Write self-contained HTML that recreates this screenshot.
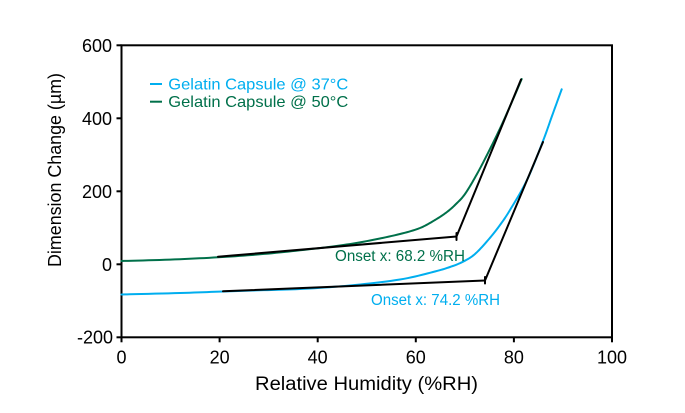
<!DOCTYPE html>
<html>
<head>
<meta charset="utf-8">
<style>
  html, body { margin: 0; padding: 0; background: #ffffff; }
  svg { display: block; }
  text { font-family: "Liberation Sans", "DejaVu Sans", sans-serif; }
</style>
</head>
<body>
<svg width="685" height="413" viewBox="0 0 685 413" xmlns="http://www.w3.org/2000/svg">
  <rect x="0" y="0" width="685" height="413" fill="#ffffff"/>

  <!-- Plot frame -->
  <rect x="121.5" y="45.3" width="490.5" height="292" fill="none" stroke="#000" stroke-width="2"/>

  <!-- Y ticks -->
  <g stroke="#000" stroke-width="2">
    <line x1="116.5" y1="45.3" x2="121.5" y2="45.3"/>
    <line x1="116.5" y1="118.3" x2="121.5" y2="118.3"/>
    <line x1="116.5" y1="191.3" x2="121.5" y2="191.3"/>
    <line x1="116.5" y1="264.3" x2="121.5" y2="264.3"/>
    <line x1="116.5" y1="337.3" x2="121.5" y2="337.3"/>
  </g>
  <!-- X ticks -->
  <g stroke="#000" stroke-width="2">
    <line x1="121.5" y1="337.3" x2="121.5" y2="342.3"/>
    <line x1="219.6" y1="337.3" x2="219.6" y2="342.3"/>
    <line x1="317.7" y1="337.3" x2="317.7" y2="342.3"/>
    <line x1="415.8" y1="337.3" x2="415.8" y2="342.3"/>
    <line x1="513.9" y1="337.3" x2="513.9" y2="342.3"/>
    <line x1="612" y1="337.3" x2="612" y2="342.3"/>
  </g>

  <!-- Y tick labels -->
  <g font-size="18" fill="#000" text-anchor="end">
    <text x="112" y="51.8">600</text>
    <text x="112" y="124.8">400</text>
    <text x="112" y="197.8">200</text>
    <text x="112" y="270.8">0</text>
    <text x="113" y="343.6">-200</text>
  </g>
  <!-- X tick labels -->
  <g font-size="18" fill="#000" text-anchor="middle">
    <text x="121.5" y="363.5">0</text>
    <text x="219.6" y="363.5">20</text>
    <text x="317.7" y="363.5">40</text>
    <text x="415.8" y="363.5">60</text>
    <text x="513.9" y="363.5">80</text>
    <text x="612" y="363.5">100</text>
  </g>

  <!-- Axis titles -->
  <text x="255" y="390" font-size="19" fill="#000" textLength="223" lengthAdjust="spacingAndGlyphs">Relative Humidity (%RH)</text>
  <text transform="translate(61,170) rotate(-90)" text-anchor="middle" font-size="18" fill="#000" textLength="194" lengthAdjust="spacingAndGlyphs">Dimension Change (µm)</text>

  <!-- Legend -->
  <line x1="150" y1="84" x2="162" y2="84" stroke="#00AEEF" stroke-width="2"/>
  <line x1="150" y1="101.7" x2="162" y2="101.7" stroke="#00704A" stroke-width="2"/>
  <text x="168.3" y="89.3" font-size="16" fill="#00AEEF" textLength="180" lengthAdjust="spacingAndGlyphs">Gelatin Capsule @ 37°C</text>
  <text x="168.3" y="107" font-size="16" fill="#00704A" textLength="180" lengthAdjust="spacingAndGlyphs">Gelatin Capsule @ 50°C</text>

  <!-- Curves -->
  <polyline class="smooth" fill="none" stroke="#00704A" stroke-width="2" stroke-linejoin="round" stroke-linecap="round"
    points="121.5,261 170,259.6 218,257.3 260,254.3 300,250.3 340,245.5 370,240.5 400,234 420,228 435,220 447,212 456,204 465,194 477,174 489,151 500,128.5 511,104 521.7,79"/>
  <polyline class="smooth" fill="none" stroke="#00AEEF" stroke-width="2" stroke-linejoin="round" stroke-linecap="round"
    points="121.5,294.5 180,293 223,291.5 260,290.3 300,289 350,285.5 400,279.5 433,272 450,267 463,261.7 475,254 489,239 500,225 510,210 527,180 543,141 552,116 561.7,89.3"/>

  <!-- Tangent lines (black) -->
  <g stroke="#000" stroke-width="2" fill="none" stroke-linecap="round">
    <line x1="218" y1="256.7" x2="456.5" y2="236.5"/>
    <line x1="456.5" y1="236.5" x2="521" y2="79.5"/>
    <line x1="456.5" y1="233" x2="456.5" y2="240"/>
    <line x1="223" y1="291.3" x2="485" y2="280.5"/>
    <line x1="485" y1="280.5" x2="543" y2="142"/>
    <line x1="485" y1="277" x2="485" y2="283.5"/>
  </g>

  <!-- Onset labels -->
  <text x="335" y="261" font-size="15.5" fill="#00704A" textLength="130" lengthAdjust="spacingAndGlyphs">Onset x: 68.2 %RH</text>
  <text x="371" y="305" font-size="15.5" fill="#00AEEF" textLength="129" lengthAdjust="spacingAndGlyphs">Onset x: 74.2 %RH</text>
</svg>
<script>
(function(){
  try {
    var lines = document.querySelectorAll('polyline.smooth');
    for (var k = 0; k < lines.length; k++) {
      var pl = lines[k];
      var raw = pl.getAttribute('points').trim().split(/\s+/);
      var p = raw.map(function(s){ var a = s.split(','); return [parseFloat(a[0]), parseFloat(a[1])]; });
      var out = [];
      for (var i = 0; i < p.length - 1; i++) {
        var p0 = p[i > 0 ? i - 1 : i], p1 = p[i], p2 = p[i + 1], p3 = p[i + 2 < p.length ? i + 2 : i + 1];
        for (var s = 0; s < 10; s++) {
          var t = s / 10, t2 = t * t, t3 = t2 * t;
          var x = 0.5 * ((2 * p1[0]) + (-p0[0] + p2[0]) * t + (2 * p0[0] - 5 * p1[0] + 4 * p2[0] - p3[0]) * t2 + (-p0[0] + 3 * p1[0] - 3 * p2[0] + p3[0]) * t3);
          var y = 0.5 * ((2 * p1[1]) + (-p0[1] + p2[1]) * t + (2 * p0[1] - 5 * p1[1] + 4 * p2[1] - p3[1]) * t2 + (-p0[1] + 3 * p1[1] - 3 * p2[1] + p3[1]) * t3);
          out.push(x.toFixed(2) + ',' + y.toFixed(2));
        }
      }
      var last = p[p.length - 1];
      out.push(last[0] + ',' + last[1]);
      pl.setAttribute('points', out.join(' '));
    }
  } catch (e) {}
})();
</script>
</body>
</html>
